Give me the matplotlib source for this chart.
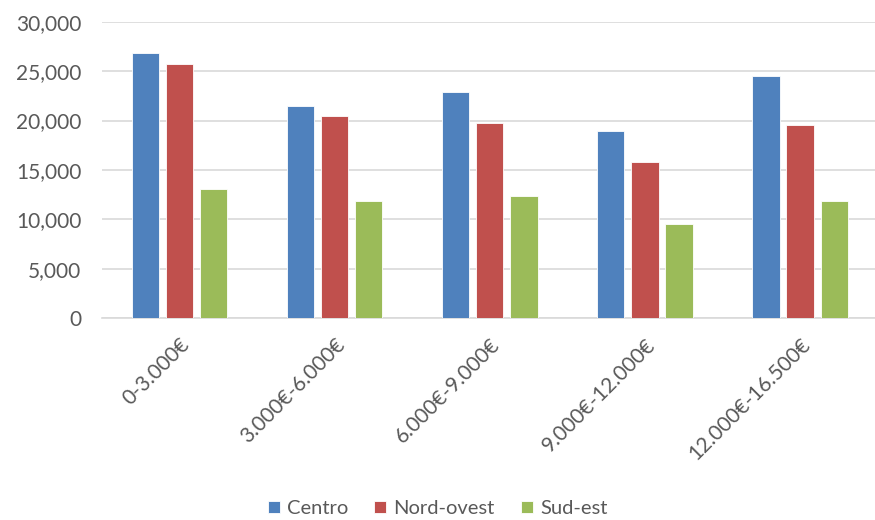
import matplotlib
matplotlib.use("Agg")
import matplotlib.pyplot as plt
import numpy as np
from matplotlib.ticker import FuncFormatter

categories = ["0-3.000€", "3.000€-6.000€", "6.000€-9.000€", "9.000€-12.000€", "12.000€-16.500€"]
centro = [26800, 21450, 22850, 18970, 24470]
nord_ovest = [25700, 20480, 19710, 15820, 19500]
sud_est = [13050, 11870, 12330, 9530, 11800]
series_names = ["Centro", "Nord-ovest", "Sud-est"]
colors = ["#4f81bd", "#c0504d", "#9bbb59"]

plt.rcParams['font.family'] = ['Lato', 'DejaVu Sans']

fig = plt.figure(figsize=(8.75, 5.2), dpi=100)
ax = fig.add_axes([0.1166, 0.3885, 0.8864, 0.5695])

x = np.arange(len(categories))
w = 0.175
step = 0.22
for i, (vals, name, c) in enumerate(zip([centro, nord_ovest, sud_est], series_names, colors)):
    ax.bar(x + (i - 1) * step, vals, width=w, color=c, label=name,
           edgecolor="white", linewidth=0.6, zorder=3)

ax.set_xlim(-0.5, len(categories) - 0.5)
ax.set_ylim(0, 30000)
ax.set_yticks(np.arange(0, 30001, 5000))
ax.yaxis.set_major_formatter(FuncFormatter(lambda v, p: f"{int(v):,}"))
ax.grid(axis="y", color="#d9d9d9", linewidth=1.2, zorder=0)
for s in ["top", "right", "left"]:
    ax.spines[s].set_visible(False)
ax.spines["bottom"].set_color("#d9d9d9")
ax.spines["bottom"].set_linewidth(1.2)
ax.tick_params(axis="both", length=0, labelsize=15, colors="#595959")
ax.tick_params(axis="y", pad=15)
ax.set_xticks(x)
ax.set_xticklabels(categories, rotation=45, ha="right", va="top", rotation_mode="anchor")
ax.tick_params(axis="x", pad=12)

fig.legend(loc="center", ncol=3, bbox_to_anchor=(0.5, 0.022), frameon=False,
           fontsize=14.5, handlelength=0.6, handleheight=0.6, handletextpad=0.35,
           columnspacing=1.3, labelcolor="#595959", borderpad=0, borderaxespad=0)

fig.savefig("out.png", dpi=100)
